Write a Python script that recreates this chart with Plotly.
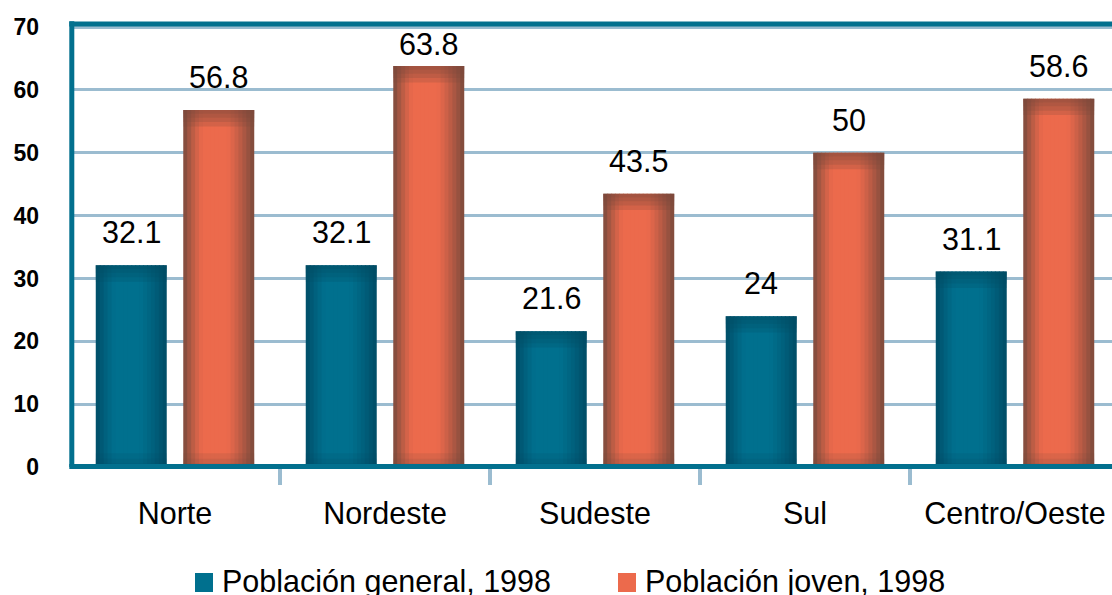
import plotly.graph_objects as go

# Regions of Brazil and the two population series (1998)
regions = ["Norte", "Nordeste", "Sudeste", "Sul", "Centro/Oeste"]
general_1998 = [32.1, 32.1, 21.6, 24, 31.1]
joven_1998 = [56.8, 63.8, 43.5, 50, 58.6]
series_names = ["Población general, 1998", "Población joven, 1998"]
y_ticks = [0, 10, 20, 30, 40, 50, 60, 70]

W, H = 1112, 595
ML, MT, MB = 70, 24, 128
plot_w = W - ML
plot_h = H - MT - MB
cat_px = 210.0
Y_MAX = 70.5
px_per_unit = plot_h / Y_MAX

TEAL = "#02708E"
GRID = "#9BBCD0"
FONT = "Liberation Sans, Arial, sans-serif"
TXT = 30.5

# (mid colour, dark edge colour) for each series
palettes = [((0, 112, 142), (0, 76, 102)),
            ((236, 106, 76), (122, 74, 60))]

slot = 0.4167
bar_w = 0.338
offsets = [-slot / 2 - bar_w / 2, slot / 2 - bar_w / 2]
N_STRIPS = 18

x_pos = list(range(len(regions)))


def mix(c1, c2, t):
    return "rgb(%d,%d,%d)" % tuple(round(a + (b - a) * t) for a, b in zip(c1, c2))


def edge_dark(t):
    left = max(0.0, 1 - t / 0.28) ** 1.3
    right = max(0.0, (t - 0.62) / 0.38) ** 1.2
    return min(1.0, max(left, right))


fig = go.Figure()

for s, vals in enumerate([general_1998, joven_1998]):
    mid, dark = palettes[s]
    sw = bar_w / N_STRIPS
    # horizontal shading: narrow strips from dark edges to bright middle
    for i in range(N_STRIPS):
        t = (i + 0.5) / N_STRIPS
        fig.add_trace(go.Bar(
            x=x_pos, y=vals, base=0,
            offset=offsets[s] + i * sw,
            width=sw * (1.25 if i < N_STRIPS - 1 else 1.0),
            marker=dict(color=mix(mid, dark, edge_dark(t)), line=dict(width=0)),
            showlegend=False, hoverinfo="skip",
        ))
    # darker band along the top and bottom of each bar
    shade = "rgba(%d,%d,%d,0.22)" % dark
    for d in [0.6, 1.2, 1.9, 2.6]:
        fig.add_trace(go.Bar(
            x=x_pos, y=[d] * len(vals), base=[v - d for v in vals],
            offset=offsets[s], width=bar_w,
            marker=dict(color=shade, line=dict(width=0)),
            showlegend=False, hoverinfo="skip",
        ))
    for d in [0.6, 1.3, 2.2]:
        fig.add_trace(go.Bar(
            x=x_pos, y=[d] * len(vals), base=0,
            offset=offsets[s], width=bar_w,
            marker=dict(color="rgba(%d,%d,%d,0.15)" % dark, line=dict(width=0)),
            showlegend=False, hoverinfo="skip",
        ))

# value labels above the bars (kept below the top frame)
annotations = []
for s, vals in enumerate([general_1998, joven_1998]):
    for xi, v in zip(x_pos, vals):
        bar_top_px = MT + plot_h - v * px_per_unit
        shift = min(14, bar_top_px - 19 - 44)
        annotations.append(dict(
            x=xi + offsets[s] + bar_w / 2, y=v, xref="x", yref="y",
            text=f"{v:g}", showarrow=False, yanchor="bottom", yshift=shift,
            font=dict(family=FONT, size=TXT, color="#000000"),
        ))


def px_x(px):
    return (px - ML) / plot_w


def px_y(py):
    return (MT + plot_h - py) / plot_h


# legend drawn below the axis
legend_items = [(195, 222), (618, 645)]
shapes = []
for s, (sq_x, tx_x) in enumerate(legend_items):
    shapes.append(dict(type="rect", xref="paper", yref="paper",
                       x0=px_x(sq_x), x1=px_x(sq_x + 18),
                       y0=px_y(592), y1=px_y(573),
                       fillcolor=mix(palettes[s][0], palettes[s][0], 0),
                       line=dict(width=0)))
    annotations.append(dict(
        x=px_x(tx_x - 2), y=px_y(581), xref="paper", yref="paper",
        text=series_names[s], showarrow=False, xanchor="left", yanchor="middle",
        font=dict(family=FONT, size=TXT, color="#000000"),
    ))

# frame: left, top and bottom edges
shapes += [
    dict(type="line", xref="paper", yref="paper", x0=px_x(71.8), x1=px_x(71.8),
         y0=0, y1=1.006, line=dict(color=TEAL, width=5), layer="above"),
    dict(type="line", xref="paper", yref="paper", x0=px_x(69.3), x1=1,
         y0=1, y1=1, line=dict(color=TEAL, width=5), layer="above"),
    dict(type="line", xref="paper", yref="paper", x0=px_x(69.3), x1=1,
         y0=px_y(466.5), y1=px_y(466.5), line=dict(color=TEAL, width=5), layer="above"),
]

fig.update_layout(
    width=W, height=H,
    margin=dict(l=ML, r=0, t=MT, b=MB, pad=0),
    paper_bgcolor="white", plot_bgcolor="white",
    barmode="overlay",
    showlegend=False,
    hovermode=False,
    annotations=annotations,
    shapes=shapes,
    xaxis=dict(
        range=[-0.5, -0.5 + plot_w / cat_px],
        tickmode="array", tickvals=x_pos, ticktext=regions,
        ticks="", showgrid=False, zeroline=False, showline=False,
        tickfont=dict(family=FONT, size=TXT, color="#000000"),
        ticklabelstandoff=25,
        minor=dict(tickmode="array", tickvals=[p + 0.5 for p in x_pos[:-1]],
                   ticks="outside", ticklen=17, tickwidth=4, tickcolor=GRID,
                   showgrid=False),
    ),
    yaxis=dict(
        range=[0, Y_MAX],
        tickmode="array", tickvals=y_ticks, ticktext=[str(v) for v in y_ticks],
        ticks="", showgrid=True, gridcolor=GRID, gridwidth=2.5,
        zeroline=False, showline=False,
        tickfont=dict(family=FONT, size=23, color="#000000", weight="bold"),
        ticklabelstandoff=30,
    ),
)

fig.write_html("out.html")
